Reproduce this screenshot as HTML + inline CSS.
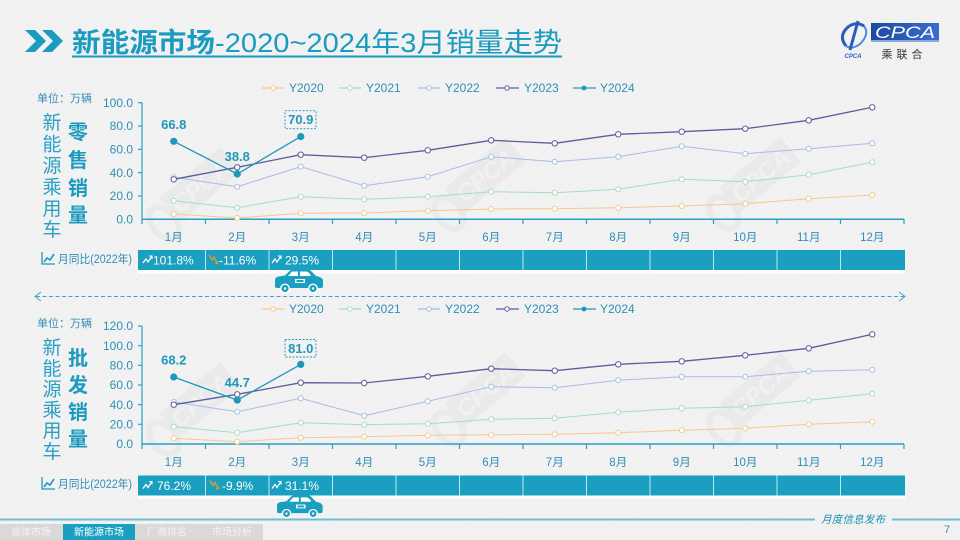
<!DOCTYPE html>
<html><head><meta charset="utf-8"><style>
html,body{margin:0;padding:0;background:#f2f2f2;}
svg{display:block;}
text{font-family:"Liberation Sans","Noto Sans CJK SC",sans-serif;}
</style></head><body>
<svg width="960" height="540" viewBox="0 0 960 540" xmlns="http://www.w3.org/2000/svg">
<defs>
<pattern id="bgp" width="6" height="6" patternUnits="userSpaceOnUse" patternTransform="rotate(45)">
<rect width="6" height="6" fill="#f2f2f2"/><line x1="0" y1="0" x2="0" y2="6" stroke="#ececec" stroke-width="1"/>
</pattern>
<linearGradient id="lg" x1="0" y1="0" x2="1" y2="0"><stop offset="0" stop-color="#1d4aa0"/><stop offset="1" stop-color="#3a6dcc"/></linearGradient>
<g id="wm">
<rect x="-40" y="-16" width="80" height="32" rx="3" fill="#e7e7e7"/>
<text x="0" y="9" text-anchor="middle" font-size="24" font-weight="bold" font-style="italic" fill="#f0f0f0">CPCA</text>
<ellipse cx="-52" cy="6" rx="12" ry="18" fill="none" stroke="#e7e7e7" stroke-width="6"/>
</g>
<g id="car">
<path d="M0,10 Q0,7 4,6.5 L10,5.5 L15,0.5 Q17,-1 21,-1 L31,-1 Q35,-1 37,2 L41,6 Q47,7 48,10 L48,16 Q48,18 46,18 L2,18 Q0,18 0,16 Z" fill="#1a9fc0"/>
<path d="M13,6 L17,1.5 L23,1.5 L23,6 Z" fill="#fff"/>
<path d="M25,1.5 L31,1.5 Q33,1.5 35,4 L36,6 L25,6 Z" fill="#fff"/>
<rect x="20" y="9" width="10" height="4" fill="#fff"/><rect x="21.5" y="10" width="7" height="2" fill="#1a9fc0"/>
<circle cx="10" cy="18.5" r="5" fill="#fff"/><circle cx="10" cy="18.5" r="3.6" fill="#1a9fc0"/><circle cx="10" cy="18.5" r="1.2" fill="#fff"/>
<circle cx="38" cy="18.5" r="5" fill="#fff"/><circle cx="38" cy="18.5" r="3.6" fill="#1a9fc0"/><circle cx="38" cy="18.5" r="1.2" fill="#fff"/>
</g>
<g id="up"><polyline points="0,7 3,3 5,6 9,0" fill="none" stroke="#fff" stroke-width="1.3"/><polyline points="6,0 9,0 9,3" fill="none" stroke="#fff" stroke-width="1.1"/></g>
<g id="dn"><polyline points="0,0 3,5 5,2 8,8" fill="none" stroke="#d59a3a" stroke-width="1.5"/><polyline points="6,8 8.5,8.5 9,6" fill="none" stroke="#d59a3a" stroke-width="1.2"/></g>
<g id="ic"><path d="M0,0 V12 H13" fill="none" stroke="#1a9bbf" stroke-width="1.3"/><polyline points="2,10 5,6 8,8 12,2" fill="none" stroke="#1a9bbf" stroke-width="1.6"/></g>
</defs>
<rect width="960" height="540" fill="url(#bgp)"/>

<!-- title -->
<polygon points="25,30 35,30 46,41 35,52 25,52 36,41" fill="#1a9bbf"/>
<polygon points="42,30 52,30 63,41 52,52 42,52 53,41" fill="#1a9bbf"/>
<text x="72" y="52" font-size="27" font-weight="bold" fill="#1a9bbf" textLength="143" lengthAdjust="spacingAndGlyphs">新能源市场</text>
<text x="215" y="52" font-size="27" fill="#1a9bbf" textLength="347" lengthAdjust="spacingAndGlyphs">-2020~2024年3月销量走势</text>
<rect x="72" y="55.5" width="490" height="2" fill="#1a9bbf"/>

<!-- logo -->
<path d="M846,46 Q838,36 848,27 Q856,21 864,26" fill="none" stroke="#2a5cc0" stroke-width="3"/>
<path d="M864,26 Q870,34 860,44 Q852,50 846,46" fill="none" stroke="#4f8ae0" stroke-width="2"/>
<path d="M858,21 L850,50" stroke="#2a5cc0" stroke-width="3"/>
<text x="853" y="58" font-size="6" font-style="italic" font-weight="bold" fill="#2a5cc0" text-anchor="middle">CPCA</text>
<rect x="871" y="23" width="68" height="17" fill="url(#lg)"/>
<line x1="871" y1="41" x2="939" y2="41" stroke="#2a5cc0" stroke-width="1"/>
<text x="875" y="38" font-size="17" font-style="italic" fill="#fff" textLength="60" lengthAdjust="spacingAndGlyphs">CPCA</text>
<text x="904" y="58" font-size="11" fill="#333" text-anchor="middle" letter-spacing="4">乘联合</text>

<!-- watermarks -->
<g opacity="0.75">
<use href="#wm" transform="translate(200,185) rotate(-40)"/>
<use href="#wm" transform="translate(485,175) rotate(-40)"/>
<use href="#wm" transform="translate(760,175) rotate(-40)"/>
<use href="#wm" transform="translate(200,400) rotate(-40)"/>
<use href="#wm" transform="translate(485,390) rotate(-40)"/>
<use href="#wm" transform="translate(760,390) rotate(-40)"/>
</g>

<!-- ===== TOP CHART ===== -->
<g font-size="12" fill="#2f8fb5">
<line x1="262" y1="88" x2="284" y2="88" stroke="#f5c98a" stroke-width="1.2"/><circle cx="273" cy="88" r="2.2" fill="#fff" stroke="#f5c98a"/>
<text x="289" y="92">Y2020</text>
<line x1="339" y1="88" x2="361" y2="88" stroke="#a6dcc4" stroke-width="1.2"/><circle cx="350" cy="88" r="2.2" fill="#fff" stroke="#a6dcc4"/>
<text x="366" y="92">Y2021</text>
<line x1="418" y1="88" x2="440" y2="88" stroke="#a9bde2" stroke-width="1.2"/><circle cx="429" cy="88" r="2.2" fill="#fff" stroke="#a9bde2"/>
<text x="445" y="92">Y2022</text>
<line x1="496" y1="88" x2="519" y2="88" stroke="#5b5f9e" stroke-width="1.2"/><circle cx="507" cy="88" r="2.2" fill="#fff" stroke="#5b5f9e"/>
<text x="524" y="92">Y2023</text>
<line x1="573" y1="88" x2="596" y2="88" stroke="#1f97bb" stroke-width="1.2"/><circle cx="584" cy="88" r="2.4" fill="#1f97bb"/>
<text x="600" y="92">Y2024</text>
</g>

<text x="37" y="102" font-size="11" fill="#2f8fb5">单位：万辆</text>
<g font-size="19" fill="#2aa0c4" text-anchor="middle">
<text x="52" y="129">新</text><text x="52" y="150.5">能</text><text x="52" y="172">源</text><text x="52" y="193.5">乘</text><text x="52" y="215">用</text><text x="52" y="236">车</text>
</g>
<g font-size="20" font-weight="bold" fill="#1a9bbf" text-anchor="middle">
<text x="78" y="139">零</text><text x="78" y="167">售</text><text x="78" y="195">销</text><text x="78" y="222">量</text>
</g>

<g font-size="12" fill="#2f8fb5" text-anchor="end">
<text x="133" y="223.5">0.0</text><text x="133" y="200">20.0</text><text x="133" y="177">40.0</text><text x="133" y="153.5">60.0</text><text x="133" y="130">80.0</text><text x="133" y="107">100.0</text>
</g>
<g stroke="#2aa0c4" stroke-width="1.2">
<line x1="142" y1="102.7" x2="142" y2="219.3"/>
<line x1="138" y1="102.7" x2="142" y2="102.7"/><line x1="138" y1="126" x2="142" y2="126"/><line x1="138" y1="149.3" x2="142" y2="149.3"/><line x1="138" y1="172.7" x2="142" y2="172.7"/><line x1="138" y1="196" x2="142" y2="196"/>
<line x1="142" y1="219.3" x2="904" y2="219.3" stroke-width="1.5"/>
<path d="M142,219 v5 M205.5,219 v5 M269,219 v5 M332.5,219 v5 M396,219 v5 M459.5,219 v5 M523,219 v5 M586.5,219 v5 M650,219 v5 M713.5,219 v5 M777,219 v5 M840.5,219 v5 M904,219 v5"/>
</g>
<g font-size="11.5" fill="#2f8fb5" text-anchor="middle">
<text x="173.75" y="241">1月</text><text x="237.25" y="241">2月</text><text x="300.75" y="241">3月</text><text x="364.25" y="241">4月</text><text x="427.75" y="241">5月</text><text x="491.25" y="241">6月</text><text x="554.75" y="241">7月</text><text x="618.25" y="241">8月</text><text x="681.75" y="241">9月</text><text x="745.25" y="241">10月</text><text x="808.75" y="241">11月</text><text x="872.25" y="241">12月</text>
</g>

<g fill="#fff" stroke-width="1">
<polyline fill="none" stroke="#f5c98a" points="173.75,214 237.25,218 300.75,213.3 364.25,213 427.75,210.7 491.25,209 554.75,208.7 618.25,207.7 681.75,206 745.25,203.7 808.75,198.7 872.25,195"/>
<g stroke="#f5c98a"><circle cx="173.75" cy="214" r="2.5"/><circle cx="237.25" cy="218" r="2.5"/><circle cx="300.75" cy="213.3" r="2.5"/><circle cx="364.25" cy="213" r="2.5"/><circle cx="427.75" cy="210.7" r="2.5"/><circle cx="491.25" cy="209" r="2.5"/><circle cx="554.75" cy="208.7" r="2.5"/><circle cx="618.25" cy="207.7" r="2.5"/><circle cx="681.75" cy="206" r="2.5"/><circle cx="745.25" cy="203.7" r="2.5"/><circle cx="808.75" cy="198.7" r="2.5"/><circle cx="872.25" cy="195" r="2.5"/></g>
<polyline fill="none" stroke="#a6dcc4" points="173.75,200.7 237.25,207.7 300.75,196.7 364.25,199.3 427.75,196.7 491.25,191.7 554.75,192.7 618.25,189.3 681.75,179.3 745.25,181.7 808.75,174.7 872.25,162.3"/>
<g stroke="#a6dcc4"><circle cx="173.75" cy="200.7" r="2.5"/><circle cx="237.25" cy="207.7" r="2.5"/><circle cx="300.75" cy="196.7" r="2.5"/><circle cx="364.25" cy="199.3" r="2.5"/><circle cx="427.75" cy="196.7" r="2.5"/><circle cx="491.25" cy="191.7" r="2.5"/><circle cx="554.75" cy="192.7" r="2.5"/><circle cx="618.25" cy="189.3" r="2.5"/><circle cx="681.75" cy="179.3" r="2.5"/><circle cx="745.25" cy="181.7" r="2.5"/><circle cx="808.75" cy="174.7" r="2.5"/><circle cx="872.25" cy="162.3" r="2.5"/></g>
<polyline fill="none" stroke="#a9bde2" points="173.75,177.3 237.25,186.7 300.75,166.7 364.25,185.7 427.75,176.7 491.25,156.7 554.75,161.7 618.25,156.7 681.75,146.3 745.25,153.7 808.75,148.7 872.25,143.3"/>
<g stroke="#a9bde2"><circle cx="173.75" cy="177.3" r="2.5"/><circle cx="237.25" cy="186.7" r="2.5"/><circle cx="300.75" cy="166.7" r="2.5"/><circle cx="364.25" cy="185.7" r="2.5"/><circle cx="427.75" cy="176.7" r="2.5"/><circle cx="491.25" cy="156.7" r="2.5"/><circle cx="554.75" cy="161.7" r="2.5"/><circle cx="618.25" cy="156.7" r="2.5"/><circle cx="681.75" cy="146.3" r="2.5"/><circle cx="745.25" cy="153.7" r="2.5"/><circle cx="808.75" cy="148.7" r="2.5"/><circle cx="872.25" cy="143.3" r="2.5"/></g>
<polyline fill="none" stroke="#5b5f9e" stroke-width="1.3" points="173.75,179.3 237.25,167.3 300.75,154.7 364.25,157.7 427.75,150.3 491.25,140.3 554.75,143.3 618.25,134.3 681.75,131.7 745.25,128.7 808.75,120.3 872.25,107.3"/>
<g stroke="#5b5f9e"><circle cx="173.75" cy="179.3" r="2.7"/><circle cx="237.25" cy="167.3" r="2.7"/><circle cx="300.75" cy="154.7" r="2.7"/><circle cx="364.25" cy="157.7" r="2.7"/><circle cx="427.75" cy="150.3" r="2.7"/><circle cx="491.25" cy="140.3" r="2.7"/><circle cx="554.75" cy="143.3" r="2.7"/><circle cx="618.25" cy="134.3" r="2.7"/><circle cx="681.75" cy="131.7" r="2.7"/><circle cx="745.25" cy="128.7" r="2.7"/><circle cx="808.75" cy="120.3" r="2.7"/><circle cx="872.25" cy="107.3" r="2.7"/></g>
<polyline fill="none" stroke="#1f97bb" stroke-width="1.3" points="173.75,141.3 237.25,174 300.75,136.6"/>
<g fill="#1f97bb"><circle cx="173.75" cy="141.3" r="3.6"/><circle cx="237.25" cy="174" r="3.6"/><circle cx="300.75" cy="136.6" r="3.6"/></g>
</g>
<g font-size="13" font-weight="bold" fill="#1f97bb" text-anchor="middle">
<text x="173.75" y="129">66.8</text><text x="237.25" y="161">38.8</text><text x="300.75" y="124">70.9</text>
</g>
<rect x="285" y="110.7" width="31" height="18" fill="none" stroke="#1f97bb" stroke-width="0.9" stroke-dasharray="2,1.5"/>

<!-- top row -->
<use href="#ic" transform="translate(42,252)"/>
<text x="58" y="263" font-size="11.5" fill="#2f8fb5" textLength="74" lengthAdjust="spacingAndGlyphs">月同比(2022年)</text>
<rect x="138" y="250" width="767" height="23.5" fill="#fff"/>
<rect x="138" y="250" width="767" height="20" fill="#1a9fc0"/>
<g stroke="#bfe6f1" stroke-width="1"><path d="M205.5,250v20 M269,250v20 M332.5,250v20 M396,250v20 M459.5,250v20 M523,250v20 M586.5,250v20 M650,250v20 M713.5,250v20 M777,250v20 M840.5,250v20"/></g>
<use href="#up" transform="translate(143,256)"/>
<use href="#dn" transform="translate(209,255)"/>
<use href="#up" transform="translate(272,256)"/>
<g font-size="12" fill="#fff">
<text x="153" y="264.5">101.8%</text><text x="219" y="264.5">-11.6%</text><text x="285" y="264.5">29.5%</text>
</g>
<use href="#car" transform="translate(275,270)"/>

<!-- dashed arrow -->
<line x1="36" y1="296.5" x2="904" y2="296.5" stroke="#3aa5c8" stroke-width="1" stroke-dasharray="4,2.5"/>
<polyline points="41,292 35,296.5 41,301" fill="none" stroke="#3aa5c8" stroke-width="1"/>
<polyline points="899,292 905,296.5 899,301" fill="none" stroke="#3aa5c8" stroke-width="1"/>

<!-- ===== BOTTOM CHART ===== -->
<g font-size="12" fill="#2f8fb5">
<line x1="262" y1="309" x2="284" y2="309" stroke="#f5c98a" stroke-width="1.2"/><circle cx="273" cy="309" r="2.2" fill="#fff" stroke="#f5c98a"/>
<text x="289" y="313">Y2020</text>
<line x1="339" y1="309" x2="361" y2="309" stroke="#a6dcc4" stroke-width="1.2"/><circle cx="350" cy="309" r="2.2" fill="#fff" stroke="#a6dcc4"/>
<text x="366" y="313">Y2021</text>
<line x1="418" y1="309" x2="440" y2="309" stroke="#a9bde2" stroke-width="1.2"/><circle cx="429" cy="309" r="2.2" fill="#fff" stroke="#a9bde2"/>
<text x="445" y="313">Y2022</text>
<line x1="496" y1="309" x2="519" y2="309" stroke="#5b5f9e" stroke-width="1.2"/><circle cx="507" cy="309" r="2.2" fill="#fff" stroke="#5b5f9e"/>
<text x="524" y="313">Y2023</text>
<line x1="573" y1="309" x2="596" y2="309" stroke="#1f97bb" stroke-width="1.2"/><circle cx="584" cy="309" r="2.4" fill="#1f97bb"/>
<text x="600" y="313">Y2024</text>
</g>

<text x="37" y="327" font-size="11" fill="#2f8fb5">单位：万辆</text>
<g font-size="19" fill="#2aa0c4" text-anchor="middle">
<text x="52" y="354">新</text><text x="52" y="375">能</text><text x="52" y="395.5">源</text><text x="52" y="416.5">乘</text><text x="52" y="437">用</text><text x="52" y="458">车</text>
</g>
<g font-size="20" font-weight="bold" fill="#1a9bbf" text-anchor="middle">
<text x="78" y="365">批</text><text x="78" y="392">发</text><text x="78" y="419">销</text><text x="78" y="446">量</text>
</g>

<g font-size="12" fill="#2f8fb5" text-anchor="end">
<text x="133" y="448">0.0</text><text x="133" y="428.5">20.0</text><text x="133" y="409">40.0</text><text x="133" y="389">60.0</text><text x="133" y="369.5">80.0</text><text x="133" y="350">100.0</text><text x="133" y="330">120.0</text>
</g>
<g stroke="#2aa0c4" stroke-width="1.2">
<line x1="142" y1="326" x2="142" y2="444"/>
<line x1="138" y1="326" x2="142" y2="326"/><line x1="138" y1="345.7" x2="142" y2="345.7"/><line x1="138" y1="365.3" x2="142" y2="365.3"/><line x1="138" y1="385" x2="142" y2="385"/><line x1="138" y1="404.7" x2="142" y2="404.7"/><line x1="138" y1="424.3" x2="142" y2="424.3"/>
<line x1="142" y1="444" x2="904" y2="444" stroke-width="1.5"/>
<path d="M142,444 v5 M205.5,444 v5 M269,444 v5 M332.5,444 v5 M396,444 v5 M459.5,444 v5 M523,444 v5 M586.5,444 v5 M650,444 v5 M713.5,444 v5 M777,444 v5 M840.5,444 v5 M904,444 v5"/>
</g>
<g font-size="11.5" fill="#2f8fb5" text-anchor="middle">
<text x="173.75" y="466">1月</text><text x="237.25" y="466">2月</text><text x="300.75" y="466">3月</text><text x="364.25" y="466">4月</text><text x="427.75" y="466">5月</text><text x="491.25" y="466">6月</text><text x="554.75" y="466">7月</text><text x="618.25" y="466">8月</text><text x="681.75" y="466">9月</text><text x="745.25" y="466">10月</text><text x="808.75" y="466">11月</text><text x="872.25" y="466">12月</text>
</g>

<g fill="#fff" stroke-width="1">
<polyline fill="none" stroke="#f5c98a" points="173.75,438.3 237.25,441.7 300.75,437.7 364.25,436.7 427.75,435.3 491.25,434.7 554.75,434.3 618.25,432.7 681.75,430.3 745.25,428.3 808.75,424.3 872.25,421.7"/>
<g stroke="#f5c98a"><circle cx="173.75" cy="438.3" r="2.5"/><circle cx="237.25" cy="441.7" r="2.5"/><circle cx="300.75" cy="437.7" r="2.5"/><circle cx="364.25" cy="436.7" r="2.5"/><circle cx="427.75" cy="435.3" r="2.5"/><circle cx="491.25" cy="434.7" r="2.5"/><circle cx="554.75" cy="434.3" r="2.5"/><circle cx="618.25" cy="432.7" r="2.5"/><circle cx="681.75" cy="430.3" r="2.5"/><circle cx="745.25" cy="428.3" r="2.5"/><circle cx="808.75" cy="424.3" r="2.5"/><circle cx="872.25" cy="421.7" r="2.5"/></g>
<polyline fill="none" stroke="#a6dcc4" points="173.75,426.7 237.25,432.7 300.75,422.7 364.25,424.7 427.75,423.7 491.25,419.3 554.75,418.3 618.25,412.3 681.75,408.3 745.25,406.7 808.75,400.3 872.25,393.7"/>
<g stroke="#a6dcc4"><circle cx="173.75" cy="426.7" r="2.5"/><circle cx="237.25" cy="432.7" r="2.5"/><circle cx="300.75" cy="422.7" r="2.5"/><circle cx="364.25" cy="424.7" r="2.5"/><circle cx="427.75" cy="423.7" r="2.5"/><circle cx="491.25" cy="419.3" r="2.5"/><circle cx="554.75" cy="418.3" r="2.5"/><circle cx="618.25" cy="412.3" r="2.5"/><circle cx="681.75" cy="408.3" r="2.5"/><circle cx="745.25" cy="406.7" r="2.5"/><circle cx="808.75" cy="400.3" r="2.5"/><circle cx="872.25" cy="393.7" r="2.5"/></g>
<polyline fill="none" stroke="#a9bde2" points="173.75,402 237.25,411.7 300.75,398.3 364.25,415.7 427.75,401.3 491.25,386.7 554.75,387.7 618.25,380.3 681.75,376.7 745.25,376.7 808.75,371.3 872.25,369.7"/>
<g stroke="#a9bde2"><circle cx="173.75" cy="402" r="2.5"/><circle cx="237.25" cy="411.7" r="2.5"/><circle cx="300.75" cy="398.3" r="2.5"/><circle cx="364.25" cy="415.7" r="2.5"/><circle cx="427.75" cy="401.3" r="2.5"/><circle cx="491.25" cy="386.7" r="2.5"/><circle cx="554.75" cy="387.7" r="2.5"/><circle cx="618.25" cy="380.3" r="2.5"/><circle cx="681.75" cy="376.7" r="2.5"/><circle cx="745.25" cy="376.7" r="2.5"/><circle cx="808.75" cy="371.3" r="2.5"/><circle cx="872.25" cy="369.7" r="2.5"/></g>
<polyline fill="none" stroke="#5b5f9e" stroke-width="1.3" points="173.75,404.7 237.25,394.3 300.75,382.7 364.25,383 427.75,376.3 491.25,368.7 554.75,370.7 618.25,364.3 681.75,361.3 745.25,355.3 808.75,348.3 872.25,334.3"/>
<g stroke="#5b5f9e"><circle cx="173.75" cy="404.7" r="2.7"/><circle cx="237.25" cy="394.3" r="2.7"/><circle cx="300.75" cy="382.7" r="2.7"/><circle cx="364.25" cy="383" r="2.7"/><circle cx="427.75" cy="376.3" r="2.7"/><circle cx="491.25" cy="368.7" r="2.7"/><circle cx="554.75" cy="370.7" r="2.7"/><circle cx="618.25" cy="364.3" r="2.7"/><circle cx="681.75" cy="361.3" r="2.7"/><circle cx="745.25" cy="355.3" r="2.7"/><circle cx="808.75" cy="348.3" r="2.7"/><circle cx="872.25" cy="334.3" r="2.7"/></g>
<polyline fill="none" stroke="#1f97bb" stroke-width="1.3" points="173.75,377 237.25,400.1 300.75,364.4"/>
<g fill="#1f97bb"><circle cx="173.75" cy="377" r="3.6"/><circle cx="237.25" cy="400.1" r="3.6"/><circle cx="300.75" cy="364.4" r="3.6"/></g>
</g>
<g font-size="13" font-weight="bold" fill="#1f97bb" text-anchor="middle">
<text x="173.75" y="364.5">68.2</text><text x="237.25" y="387">44.7</text><text x="300.75" y="353">81.0</text>
</g>
<rect x="285" y="339.5" width="31" height="17.5" fill="none" stroke="#1f97bb" stroke-width="0.9" stroke-dasharray="2,1.5"/>

<!-- bottom row -->
<use href="#ic" transform="translate(42,477)"/>
<text x="58" y="488" font-size="11.5" fill="#2f8fb5" textLength="74" lengthAdjust="spacingAndGlyphs">月同比(2022年)</text>
<rect x="138" y="475.5" width="767" height="23" fill="#fff"/>
<rect x="138" y="475.5" width="767" height="20" fill="#1a9fc0"/>
<g stroke="#bfe6f1" stroke-width="1"><path d="M205.5,475.5v20 M269,475.5v20 M332.5,475.5v20 M396,475.5v20 M459.5,475.5v20 M523,475.5v20 M586.5,475.5v20 M650,475.5v20 M713.5,475.5v20 M777,475.5v20 M840.5,475.5v20"/></g>
<use href="#up" transform="translate(143,481.5)"/>
<use href="#dn" transform="translate(210,480.5)"/>
<use href="#up" transform="translate(272,481.5)"/>
<g font-size="12" fill="#fff">
<text x="157" y="490">76.2%</text><text x="222" y="490">-9.9%</text><text x="285" y="490">31.1%</text>
</g>
<use href="#car" transform="translate(277,496) scale(0.95)"/>

<!-- footer -->
<rect x="0" y="518.5" width="815" height="2" fill="#6cbcd3"/>
<rect x="892" y="518.5" width="68" height="2" fill="#6cbcd3"/>
<text x="853" y="523" font-size="10.5" font-style="italic" fill="#1c8fb0" text-anchor="middle" textLength="64" lengthAdjust="spacingAndGlyphs">月度信息发布</text>
<rect x="0" y="524" width="63" height="16" fill="#d9d9d9"/>
<rect x="63" y="524" width="72" height="16" fill="#1a9fc0"/>
<rect x="135" y="524" width="128" height="16" fill="#d9d9d9"/>
<g font-size="10" fill="#f4f4f4" text-anchor="middle">
<text x="31" y="535.5">总体市场</text>
<text x="99" y="535.5" fill="#fff">新能源市场</text>
<text x="167" y="535.5">厂商排名</text>
<text x="232" y="535.5">市场分析</text>
</g>
<text x="947" y="533" font-size="11" fill="#3a8fb0" text-anchor="middle">7</text>
</svg>
</body></html>
